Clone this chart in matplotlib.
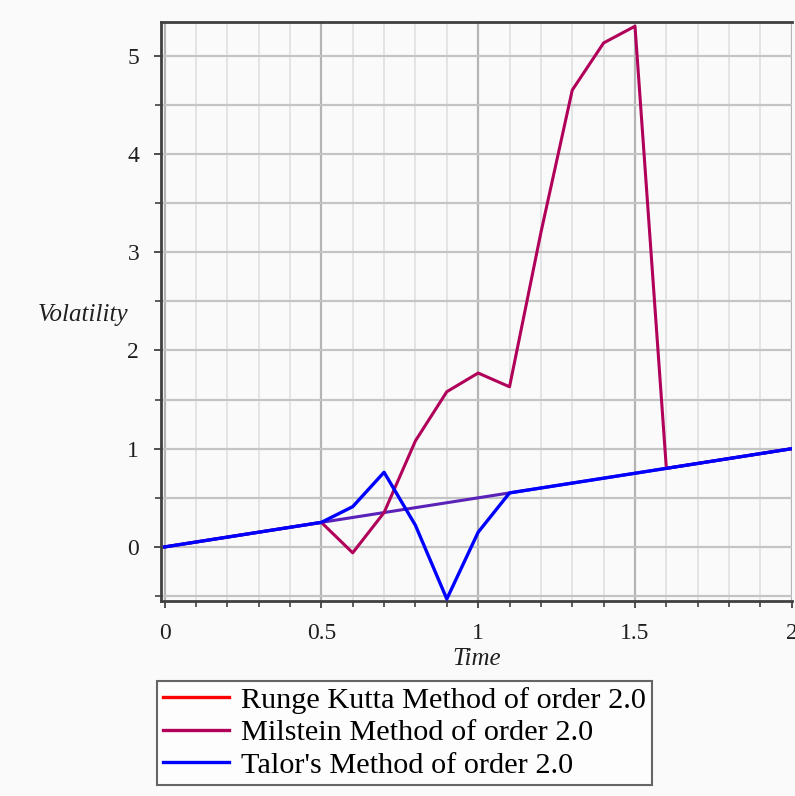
import matplotlib
matplotlib.use("Agg")
import matplotlib.pyplot as plt
from matplotlib.lines import Line2D
import numpy as np

time = [0.0, 0.1, 0.2, 0.3, 0.4, 0.5, 0.6, 0.7, 0.8, 0.9, 1.0,
        1.1, 1.2, 1.3, 1.4, 1.5, 1.6, 1.7, 1.8, 1.9, 2.0]
runge_kutta = [0.0, 0.05, 0.10, 0.15, 0.20, 0.25, 0.30, 0.35, 0.40, 0.45, 0.50,
               0.55, 0.60, 0.65, 0.70, 0.75, 0.80, 0.85, 0.90, 0.95, 1.00]
milstein = [0.0, 0.05, 0.10, 0.15, 0.20, 0.25, -0.06, 0.35, 1.08, 1.58, 1.77,
            1.63, 3.20, 4.65, 5.13, 5.30, 0.80, 0.85, 0.90, 0.95, 1.00]
talor = [0.0, 0.05, 0.10, 0.15, 0.20, 0.25, 0.41, 0.76, 0.22, -0.53, 0.15,
         0.55, 0.60, 0.65, 0.70, 0.75, 0.80, 0.85, 0.90, 0.95, 1.00]
labels = ["Runge Kutta Method of order 2.0",
          "Milstein Method of order 2.0",
          "Talor's Method of order 2.0"]
xticks = [0, 0.5, 1, 1.5, 2]
xtick_labels = ["0", "0.5", "1", "1.5", "2"]
yticks = [0, 1, 2, 3, 4, 5]

plt.rcParams['font.family'] = ['Liberation Serif', 'DejaVu Serif']

fig = plt.figure(figsize=(7.95, 7.96), dpi=100)
fig.patch.set_facecolor('#fafafa')
ax = fig.add_axes([0.203, 0.245, 0.793, 0.727])
ax.set_facecolor('#fafafa')

c_rk = '#ff0000'
c_mil = '#b0005a'
c_tal = '#0000ff'
# the RK line appears purple-blue where visible
ax.plot(time, runge_kutta, color='#5a22b8', lw=2.2, zorder=3)
ax.plot(time, milstein, color=c_mil, lw=2.2, zorder=4)
ax.plot(time, talor, color=c_tal, lw=2.4, zorder=5)

ax.set_xlim(-0.01, 2.0)
ax.set_ylim(-0.55, 5.34)
ax.set_xticks(xticks)
ax.set_xticklabels(xtick_labels)
ax.set_xticks(np.arange(0, 2.001, 0.1), minor=True)
ax.set_yticks(yticks)
ax.set_yticks(np.arange(-0.5, 5.01, 0.5), minor=True)

ax.grid(which='major', axis='x', color='#b4b4b4', lw=1.6)
ax.grid(which='minor', axis='x', color='#e4e4e4', lw=1.4)
ax.grid(which='both', axis='y', color='#c4c4c4', lw=1.6)
ax.set_axisbelow(True)

for s in ['left', 'bottom', 'top']:
    ax.spines[s].set_color('#404040')
    ax.spines[s].set_linewidth(2.0)
ax.spines['right'].set_visible(False)

ax.tick_params(which='major', length=5, width=1.3, color='#404040',
               labelsize=17, labelcolor='#202020', pad=11)
ax.tick_params(which='minor', length=4, width=1.2, color='#404040')

ax.set_xlabel("Time", fontsize=18, style='italic', labelpad=3, color='#202020')
ax.set_ylabel("Volatility", fontsize=18, style='italic', rotation=0, color='#202020')
ax.yaxis.set_label_coords(-0.125, 0.475)

handles = [Line2D([], [], color=c_rk, lw=2.4),
           Line2D([], [], color=c_mil, lw=2.4),
           Line2D([], [], color=c_tal, lw=2.4)]
leg = fig.legend(handles, labels, loc='upper left', bbox_to_anchor=(0.197, 0.145),
                 fontsize=21.8, frameon=True, fancybox=False, handlelength=2.2,
                 handletextpad=0.4, labelspacing=0.17, borderpad=0.2,
                 borderaxespad=0)
leg.get_frame().set_edgecolor('#404040')
leg.get_frame().set_linewidth(1.5)
leg.get_frame().set_facecolor('white')

fig.savefig("out.png", dpi=100, facecolor=fig.get_facecolor())
